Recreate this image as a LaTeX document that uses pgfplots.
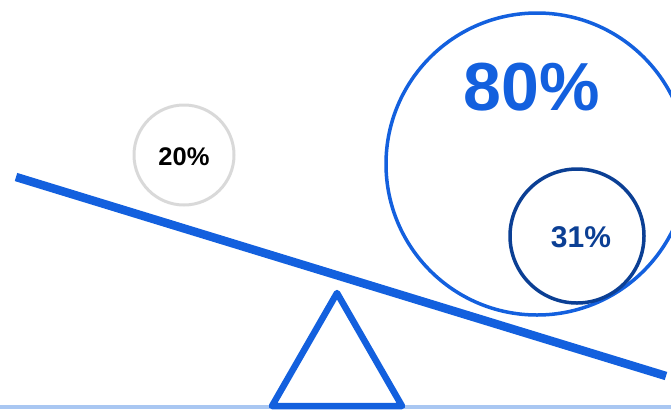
\documentclass[border=0pt]{standalone}
\usepackage{pgfplots}
\pgfplotsset{compat=1.18}
\usepackage{fontspec}
\setmainfont{Liberation Sans}
\definecolor{beamblue}{HTML}{1360DE}
\definecolor{navy}{HTML}{0B3F94}
\definecolor{lightgray}{HTML}{D9D9D9}
\definecolor{ground}{HTML}{A9C7F2}
\begin{document}
\begin{tikzpicture}
\begin{axis}[
  scale only axis, width=671pt, height=413pt,
  xmin=0, xmax=671, ymin=0, ymax=413, y dir=reverse,
  hide axis, clip=true,
]
% ground line
\addplot[ground, line width=3.5pt] coordinates {(0,407) (671,407)};
% beam
\addplot[beamblue, line width=8.5pt] coordinates {(16,177) (666,376)};
% fulcrum
\addplot[beamblue, line width=6.5pt, line join=round] coordinates {(337,293) (272,406) (402,406) (337,293)} -- cycle;
% circles (radius as mark size)
\addplot[only marks, mark=o, mark size=50pt, mark options={draw=lightgray, line width=3pt}] coordinates {(184,155)};
\addplot[only marks, mark=o, mark size=151pt, mark options={draw=beamblue, line width=3.5pt}] coordinates {(537,164)};
\addplot[only marks, mark=o, mark size=67pt, mark options={draw=navy, line width=3.5pt}] coordinates {(577,236)};
\node[inner sep=0pt, anchor=center, text=black, font=\bfseries\fontsize{25.5}{25.5}\selectfont] at (axis cs:184,157) {20\%};
\node[inner sep=0pt, anchor=center, text=beamblue, font=\bfseries\fontsize{68}{68}\selectfont] at (axis cs:532,87) {80\%};
\node[inner sep=0pt, anchor=center, text=navy, font=\bfseries\fontsize{30}{30}\selectfont] at (axis cs:581,237) {31\%};
\end{axis}
\pgfresetboundingbox
\useasboundingbox (current axis.south west) rectangle (current axis.north east);
\end{tikzpicture}
\end{document}
